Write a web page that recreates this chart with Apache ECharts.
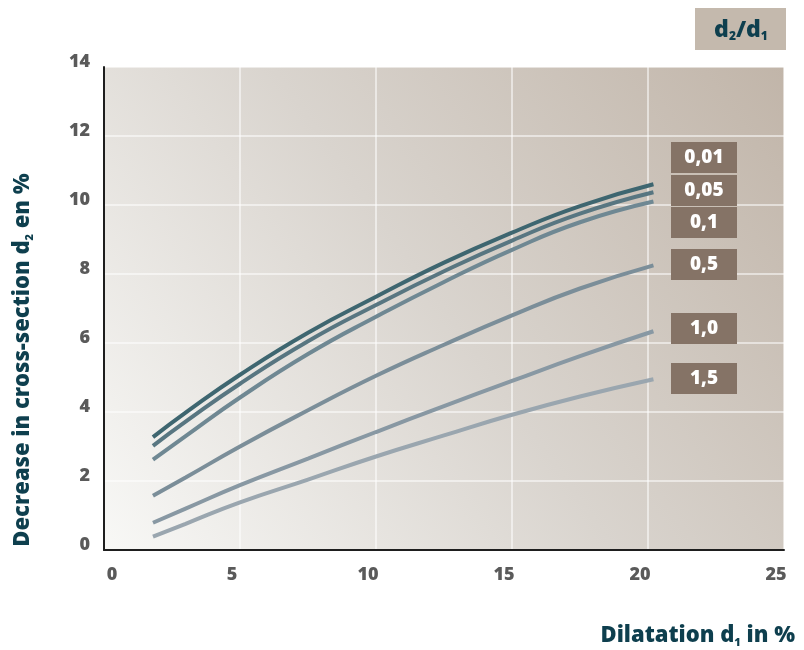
<!DOCTYPE html>
<html>
<head>
<meta charset="utf-8">
<script src="https://cdn.jsdelivr.net/npm/echarts@6/dist/echarts.min.js"></script>
<style>
html,body{margin:0;padding:0;background:#fff;}
#chart{width:804px;height:650px;}
</style>
</head>
<body>
<div id="chart"></div>
<script>
// Dilatation d1 (%) sample points
const dilatation = [1.8, 3, 5, 7.5, 10, 12.5, 15, 17.5, 20.2];
// ratio labels d2/d1
const ratioLabels = ['0,01', '0,05', '0,1', '0,5', '1,0', '1,5'];
// Decrease in cross-section d2 (%) per ratio
const r001 = [3.27, 3.98, 5.08, 6.3, 7.34, 8.33, 9.2, 9.97, 10.6];
const r005 = [3.02, 3.72, 4.82, 6.05, 7.1, 8.08, 8.97, 9.75, 10.37];
const r01  = [2.62, 3.3, 4.42, 5.68, 6.76, 7.77, 8.7, 9.5, 10.1];
const r05  = [1.57, 2.1, 3.0, 4.05, 5.05, 5.95, 6.8, 7.58, 8.25];
const r10  = [0.79, 1.2, 1.88, 2.65, 3.42, 4.17, 4.9, 5.62, 6.34];
const r15  = [0.39, 0.76, 1.38, 2.04, 2.71, 3.32, 3.92, 4.45, 4.95];
const xTicks = [0, 5, 10, 15, 20, 25];
const yTicks = [0, 2, 4, 6, 8, 10, 12, 14];

const seriesValues = [r001, r005, r01, r05, r10, r15];
const lineColors = ['#3e6670', '#587681', '#6f8893', '#7b8e99', '#8898a3', '#9aa6af'];
const boxTops = [142, 175, 207, 249, 313, 363];

const teal = '#0e3f4e';
const FONT = '"Open Sans", "Liberation Sans", sans-serif';

const chart = echarts.init(document.getElementById('chart'), null, {renderer: 'canvas'});

const series = seriesValues.map((vals, i) => ({
  name: ratioLabels[i],
  type: 'line',
  smooth: 0.5,
  showSymbol: false,
  symbol: 'none',
  data: dilatation.map((x, j) => [x, vals[j]]),
  lineStyle: {color: lineColors[i], width: 4, cap: 'butt'},
  z: 5
}));

const graphics = [];
// legend title box
graphics.push({type: 'rect', left: 695, top: 8, shape: {width: 91, height: 42}, style: {fill: '#c4b9ad'}, z: 10});
graphics.push({
  type: 'text', x: 741, y: 30, z: 11,
  style: {
    text: '{m|d}{s|2}{m|/d}{s|1}',
    align: 'center', verticalAlign: 'middle',
    rich: {
      m: {fontSize: 23, fontWeight: 800, fill: teal, fontFamily: FONT, lineHeight: 26},
      s: {fontSize: 12, fontWeight: 800, fill: teal, fontFamily: FONT, padding: [13, 0, 0, 0], lineHeight: 26}
    }
  }
});
// ratio label boxes
ratioLabels.forEach((lab, i) => {
  graphics.push({type: 'rect', left: 671, top: boxTops[i], shape: {width: 66, height: 31}, style: {fill: '#857366'}, z: 10});
  graphics.push({
    type: 'text', x: 704, y: boxTops[i] + 16, z: 11,
    style: {text: lab, align: 'center', verticalAlign: 'middle', fill: '#ffffff', fontSize: 19, fontWeight: 800, fontFamily: FONT}
  });
});
// y axis title
graphics.push({
  type: 'text', x: 23, y: 360, rotation: Math.PI / 2, z: 11,
  style: {
    text: '{m|Decrease in cross-section d}{s|2}{m| en %}',
    align: 'center', verticalAlign: 'middle',
    rich: {
      m: {fontSize: 22, fontWeight: 800, fill: teal, fontFamily: FONT, lineHeight: 26},
      s: {fontSize: 11, fontWeight: 800, fill: teal, fontFamily: FONT, padding: [13, 0, 0, 0], lineHeight: 26}
    }
  }
});
// x axis title
graphics.push({
  type: 'text', x: 795, y: 636, z: 11,
  style: {
    text: '{m|Dilatation d}{s|1}{m| in %}',
    align: 'right', verticalAlign: 'middle',
    rich: {
      m: {fontSize: 22, fontWeight: 800, fill: teal, fontFamily: FONT, lineHeight: 26},
      s: {fontSize: 11, fontWeight: 800, fill: teal, fontFamily: FONT, padding: [13, 0, 0, 0], lineHeight: 26}
    }
  }
});

const tickStyle = {fontSize: 18, fontWeight: 800, fontFamily: FONT, color: '#5a5a5a'};

const option = {
  backgroundColor: '#ffffff',
  animation: false,
  grid: {
    left: 104, right: 20, top: 67, bottom: 100,
    show: true,
    borderWidth: 0,
    backgroundColor: new echarts.graphic.LinearGradient(0, 1, 1, 0, [
      {offset: 0, color: '#f8f8f6'},
      {offset: 0.5, color: '#d9d4ce'},
      {offset: 1, color: '#c1b5a9'}
    ])
  },
  xAxis: {
    type: 'value', min: xTicks[0], max: xTicks[xTicks.length - 1], interval: 5,
    axisLine: {show: true, onZero: false, lineStyle: {color: '#1e1e1e', width: 2}},
    axisTick: {show: false},
    splitLine: {show: true, lineStyle: {color: 'rgba(255,255,255,0.7)', width: 1.5}},
    axisLabel: {
      margin: 16, color: '#5a5a5a', fontSize: 18, fontWeight: 800, fontFamily: FONT,
      formatter: v => !xTicks.includes(v) ? '' : (v === 0 ? '{z|0}' : '{n|' + v + '}'),
      rich: {
        z: Object.assign({padding: [0, 0, 0, 16]}, tickStyle),
        n: Object.assign({padding: [0, 16, 0, 0]}, tickStyle)
      }
    }
  },
  yAxis: {
    type: 'value', min: yTicks[0], max: yTicks[yTicks.length - 1], interval: 2,
    axisLine: {show: true, onZero: false, lineStyle: {color: '#1e1e1e', width: 2}},
    axisTick: {show: false},
    splitLine: {show: true, lineStyle: {color: 'rgba(255,255,255,0.7)', width: 1.5}},
    axisLabel: {
      margin: 14, color: '#5a5a5a', fontSize: 18, fontWeight: 800, fontFamily: FONT,
      formatter: v => yTicks.includes(v) ? '{a|' + v + '}' : '',
      rich: {
        a: Object.assign({padding: [0, 0, 10, 0]}, tickStyle)
      }
    }
  },
  series: series,
  graphic: graphics
};
chart.setOption(option);
</script>
</body>
</html>
